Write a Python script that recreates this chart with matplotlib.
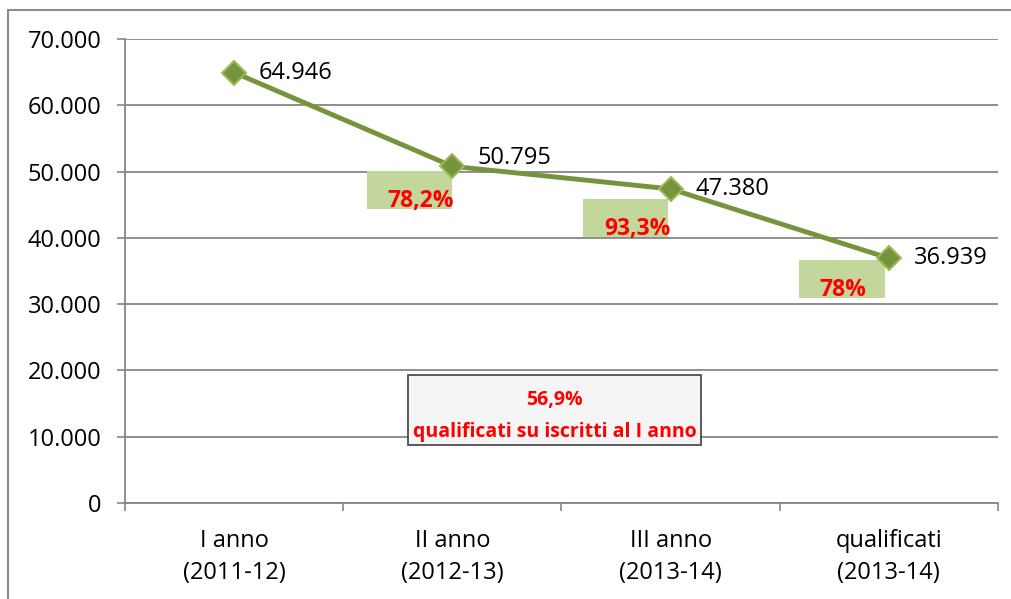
import matplotlib.pyplot as plt
from matplotlib.patches import Rectangle
from matplotlib.ticker import FuncFormatter, FixedLocator

# dati
categorie = ['I anno\n(2011-12)', 'II anno\n(2012-13)', 'III anno\n(2013-14)', 'qualificati\n(2013-14)']
iscritti = [64946, 50795, 47380, 36939]
etichette = ['64.946', '50.795', '47.380', '36.939']
percentuali = ['78,2%', '93,3%', '78%']
totale = ['56,9%', 'qualificati su iscritti al I anno']

plt.rcParams['font.family'] = ['Open Sans', 'DejaVu Sans']

verde = '#77933C'
verde_chiaro = '#C3D69B'
grigio = '#868686'

fig = plt.figure(figsize=(10.12, 5.99), dpi=100)
ax = fig.add_axes([125 / 1012, 96 / 599, 873 / 1012, 464 / 599])

# cornice esterna
fig.patches.append(Rectangle((8 / 1012, -0.05), 1.2, 1.05 - 10 / 599, transform=fig.transFigure,
                             fill=False, edgecolor='#8c8c8c', linewidth=1.5))

x = list(range(len(iscritti)))

# riquadri verdi con percentuali (dietro la linea): x0, y0, y1, x del testo
riquadri = [(0.61, 44300, 50100, 0.855), (1.60, 40100, 45850, 1.85), (2.59, 30900, 36650, 2.79)]
for (x0, y0, y1, xt), testo in zip(riquadri, percentuali):
    ax.add_patch(Rectangle((x0, y0), 0.39, y1 - y0, facecolor=verde_chiaro, edgecolor='none', zorder=2))
    ax.text(xt, y0 + 1300, testo, color='red', fontsize=16.5, fontweight='bold',
            ha='center', va='center', zorder=3)

ax.plot(x, iscritti, color=verde, linewidth=3.5, marker='D', markersize=12,
        markerfacecolor=verde, markeredgecolor='#9BBB59', markeredgewidth=1.5, zorder=4)

# offset verticali delle etichette (punti)
dy = [0, 6, 0, 0]
for xi, yi, lab, d in zip(x, iscritti, etichette, dy):
    ax.annotate(lab, (xi, yi), xytext=(18, d), textcoords='offset points',
                fontsize=17, ha='left', va='center', color='black', zorder=5)

# riquadro riepilogo
ax.add_patch(Rectangle((0.797, 8750), 1.342, 10550, facecolor='#f5f5f5', edgecolor='#404040',
                       linewidth=1.2, zorder=5))
ax.text(1.468, 15550, totale[0], color='red', fontsize=14, fontweight='bold', ha='center', va='center', zorder=6)
ax.text(1.468, 10700, totale[1], color='red', fontsize=14, fontweight='bold', ha='center', va='center', zorder=6)

ax.set_xlim(-0.5, 3.5)
ax.set_ylim(0, 70000)
ax.set_yticks(range(0, 70001, 10000))
ax.yaxis.set_major_formatter(FuncFormatter(lambda v, p: f'{int(v):,}'.replace(',', '.')))
ax.set_xticks(x)
ax.set_xticklabels(categorie, linespacing=1.45)
ax.xaxis.set_minor_locator(FixedLocator([-0.5, 0.5, 1.5, 2.5, 3.5]))

ax.tick_params(axis='y', length=6, width=1.2, color=grigio, labelsize=17, pad=11)
ax.tick_params(axis='x', which='major', length=0, labelsize=17, pad=19)
ax.tick_params(axis='x', which='minor', length=6, width=1.2, color=grigio)

ax.grid(axis='y', color=grigio, linewidth=1.3)
ax.set_axisbelow(True)
for s in ['top', 'right']:
    ax.spines[s].set_visible(False)
for s in ['left', 'bottom']:
    ax.spines[s].set_color(grigio)
    ax.spines[s].set_linewidth(1.3)

fig.savefig('out.png', dpi=100)
